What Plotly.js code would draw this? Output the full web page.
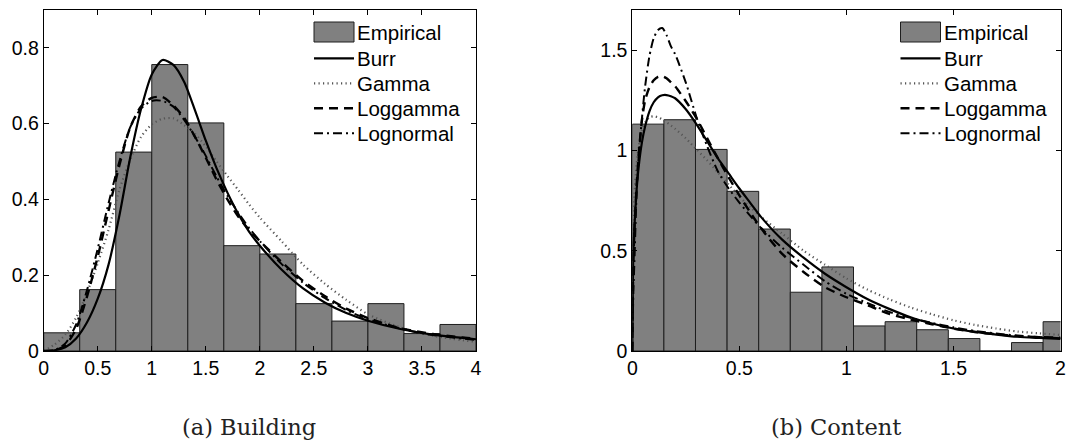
<!DOCTYPE html>
<html>
<head>
<meta charset="utf-8">
<script src="https://cdn.plot.ly/plotly-3.0.1.min.js"></script>
<style>html,body{margin:0;padding:0;background:#fff;}#chart{width:1067px;height:446px;}</style>
</head>
<body>
<div id="chart"></div>
<script>
// ---------- data ----------
const seriesNames = ["Empirical", "Burr", "Gamma", "Loggamma", "Lognormal"];
const panelCaptions = ["(a) Building", "(b) Content"];

// (a) Building
const buildingBinCenters = [0.1667, 0.5, 0.8333, 1.1667, 1.5, 1.8333, 2.1667, 2.5, 2.8333, 3.1667, 3.5, 3.8333];
const buildingBinWidth = 0.3333;
const buildingDensity = [0.048, 0.162, 0.525, 0.756, 0.602, 0.278, 0.256, 0.125, 0.079, 0.125, 0.046, 0.070];
const buildingX = [0, 0.1, 0.2, 0.3, 0.4, 0.5, 0.6, 0.7, 0.8, 0.9, 1.0, 1.1, 1.2, 1.3, 1.4, 1.5, 1.6, 1.7, 1.8, 1.9, 2.0, 2.2, 2.4, 2.6, 2.8, 3.0, 3.3, 3.6, 4.0];
const buildingBurr = [0, 0.002, 0.01, 0.033, 0.075, 0.138, 0.228, 0.357, 0.51, 0.638, 0.73, 0.768, 0.755, 0.71, 0.635, 0.555, 0.482, 0.418, 0.362, 0.315, 0.278, 0.215, 0.165, 0.128, 0.1, 0.08, 0.058, 0.043, 0.031];
const buildingGamma = [0, 0.017, 0.043, 0.088, 0.153, 0.232, 0.32, 0.425, 0.505, 0.565, 0.598, 0.613, 0.614, 0.596, 0.573, 0.54, 0.5, 0.462, 0.425, 0.387, 0.352, 0.29, 0.228, 0.178, 0.135, 0.097, 0.062, 0.04, 0.024];
const buildingLoggamma = [0, 0.001, 0.015, 0.058, 0.143, 0.249, 0.37, 0.49, 0.59, 0.645, 0.668, 0.67, 0.648, 0.615, 0.565, 0.51, 0.452, 0.4, 0.355, 0.32, 0.29, 0.235, 0.185, 0.145, 0.112, 0.087, 0.06, 0.045, 0.032];
const buildingLognormal = [0, 0.002, 0.02, 0.07, 0.16, 0.27, 0.39, 0.5, 0.59, 0.64, 0.66, 0.66, 0.645, 0.61, 0.565, 0.515, 0.46, 0.41, 0.365, 0.325, 0.29, 0.23, 0.18, 0.14, 0.108, 0.084, 0.059, 0.042, 0.029];
const buildingXTicks = [0, 0.5, 1, 1.5, 2, 2.5, 3, 3.5, 4];
const buildingYTicks = [0, 0.2, 0.4, 0.6, 0.8];

// (b) Content
const contentBinCenters = [0.0738, 0.2214, 0.369, 0.5166, 0.6642, 0.8118, 0.9594, 1.107, 1.2546, 1.4022, 1.5498, 1.6974, 1.845, 1.9926];
const contentBinWidth = 0.1476;
const contentDensity = [1.131, 1.153, 1.005, 0.796, 0.608, 0.293, 0.419, 0.125, 0.146, 0.106, 0.062, 0, 0.042, 0.146];
const contentX = [0, 0.005, 0.01, 0.02, 0.03, 0.045, 0.06, 0.08, 0.1, 0.12, 0.14, 0.16, 0.18, 0.2, 0.25, 0.3, 0.35, 0.4, 0.45, 0.5, 0.55, 0.6, 0.7, 0.8, 0.9, 1.0, 1.1, 1.2, 1.3, 1.4, 1.5, 1.6, 1.7, 1.8, 1.9, 2.0];
const contentBurr = [0, 0.5, 0.62, 0.8, 0.92, 1.04, 1.12, 1.195, 1.24, 1.265, 1.275, 1.276, 1.27, 1.26, 1.205, 1.13, 1.045, 0.96, 0.885, 0.81, 0.74, 0.67, 0.555, 0.465, 0.385, 0.318, 0.258, 0.21, 0.168, 0.137, 0.112, 0.095, 0.082, 0.071, 0.065, 0.06];
const contentGamma = [0, 0.6, 0.78, 0.93, 1.02, 1.1, 1.14, 1.165, 1.17, 1.165, 1.155, 1.14, 1.125, 1.108, 1.06, 1.005, 0.95, 0.89, 0.83, 0.77, 0.718, 0.67, 0.585, 0.5, 0.43, 0.362, 0.305, 0.258, 0.217, 0.183, 0.153, 0.13, 0.112, 0.097, 0.088, 0.08];
const contentLoggamma = [0, 0.45, 0.6, 0.82, 0.98, 1.15, 1.25, 1.315, 1.35, 1.367, 1.37, 1.36, 1.34, 1.32, 1.245, 1.16, 1.06, 0.96, 0.866, 0.776, 0.692, 0.614, 0.484, 0.394, 0.318, 0.268, 0.228, 0.185, 0.157, 0.133, 0.112, 0.095, 0.083, 0.074, 0.069, 0.066];
const contentLognormal = [0, 0.3, 0.45, 0.785, 0.97, 1.16, 1.32, 1.47, 1.56, 1.6, 1.61, 1.575, 1.52, 1.48, 1.338, 1.165, 1.02, 0.895, 0.81, 0.74, 0.675, 0.615, 0.515, 0.43, 0.348, 0.285, 0.238, 0.195, 0.165, 0.14, 0.118, 0.1, 0.087, 0.077, 0.07, 0.064];
const contentXTicks = [0, 0.5, 1, 1.5, 2];
const contentYTicks = [0, 0.5, 1, 1.5];

// ---------- styling ----------
const W = 1067, H = 446, MT = 10, MB = 95;
const PH = H - MT - MB;
const px = p => p / W;
const py = p => (H - MB - p) / PH;

const barFill = '#808080', barEdge = '#1e1e1e';
const lineStyles = {
  Burr:      {color: '#000', width: 2.2, dash: 'solid'},
  Gamma:     {color: '#555', width: 2.2, dash: '1.2px,3.3px'},
  Loggamma:  {color: '#000', width: 2.4, dash: '9px,6px'},
  Lognormal: {color: '#000', width: 2.0, dash: '9px,4px,2px,4px'}
};

function curve(name, x, y, xa, ya) {
  return {type: 'scatter', mode: 'lines', name: name, x: x, y: y, xaxis: xa, yaxis: ya,
    line: Object.assign({shape: 'spline', smoothing: 0.7}, lineStyles[name]),
    showlegend: false, hoverinfo: 'skip'};
}
function bars(x, y, w, xa, ya) {
  return {type: 'bar', name: seriesNames[0], x: x, y: y, width: w, xaxis: xa, yaxis: ya,
    marker: {color: barFill, line: {color: barEdge, width: 1}}, showlegend: false, hoverinfo: 'skip'};
}

const traces = [
  bars(buildingBinCenters, buildingDensity, buildingBinWidth, 'x', 'y'),
  curve('Gamma', buildingX, buildingGamma, 'x', 'y'),
  curve('Lognormal', buildingX, buildingLognormal, 'x', 'y'),
  curve('Loggamma', buildingX, buildingLoggamma, 'x', 'y'),
  curve('Burr', buildingX, buildingBurr, 'x', 'y'),
  bars(contentBinCenters, contentDensity, contentBinWidth, 'x2', 'y2'),
  curve('Gamma', contentX, contentGamma, 'x2', 'y2'),
  curve('Lognormal', contentX, contentLognormal, 'x2', 'y2'),
  curve('Loggamma', contentX, contentLoggamma, 'x2', 'y2'),
  curve('Burr', contentX, contentBurr, 'x2', 'y2')
];

const tickFont = {family: 'Liberation Sans, Arial, sans-serif', size: 19.5, color: '#000'};
function axis(extra) {
  return Object.assign({
    showline: true, linecolor: '#000', linewidth: 1, mirror: 'allticks',
    ticks: 'inside', ticklen: 5, tickwidth: 1, tickcolor: '#000',
    showgrid: false, zeroline: false, fixedrange: true, tickmode: 'array',
    tickfont: tickFont, ticklabeloverflow: 'allow'
  }, extra);
}

const shapes = [], annotations = [];
function legend(x0) {
  const x1 = x0 + 40;
  shapes.push({type: 'rect', xref: 'paper', yref: 'paper', x0: px(x0), x1: px(x1), y0: py(42), y1: py(22),
    fillcolor: barFill, line: {color: barEdge, width: 1}});
  const rows = [58.3, 83.3, 108.3, 133.3];
  seriesNames.slice(1).forEach((n, i) => {
    const s = lineStyles[n];
    shapes.push({type: 'line', xref: 'paper', yref: 'paper', x0: px(x0), x1: px(x1), y0: py(rows[i]), y1: py(rows[i]),
      line: {color: s.color, width: s.width, dash: s.dash}});
  });
  const ys = [32.5].concat(rows);
  seriesNames.forEach((n, i) => {
    annotations.push({text: n, xref: 'paper', yref: 'paper', x: px(x1 + 1), y: py(ys[i]),
      xanchor: 'left', yanchor: 'middle', showarrow: false,
      font: {family: 'Liberation Sans, Arial, sans-serif', size: 20.5, color: '#000'}});
  });
}
legend(314);
legend(900.5);

const captionX = [249, 836];
panelCaptions.forEach((c, i) => {
  annotations.push({text: c, xref: 'paper', yref: 'paper', x: px(captionX[i]), y: py(427),
    xanchor: 'center', yanchor: 'middle', showarrow: false,
    font: {family: 'DejaVu Serif, serif', size: 22.5, color: '#222'}});
});

const layout = {
  width: W, height: H,
  margin: {l: 0, r: 0, t: MT, b: MB, pad: 0},
  paper_bgcolor: '#fff', plot_bgcolor: '#fff',
  showlegend: false, barmode: 'overlay', bargap: 0,
  font: {family: 'Liberation Sans, Arial, sans-serif', color: '#000'},
  xaxis: axis({domain: [px(43.7), px(476)], range: [0, 4], tickvals: buildingXTicks, anchor: 'y'}),
  yaxis: axis({domain: [0, 1], range: [0, 0.9], tickvals: buildingYTicks, anchor: 'x'}),
  xaxis2: axis({domain: [px(632.3), px(1060.5)], range: [0, 2], tickvals: contentXTicks, anchor: 'y2'}),
  yaxis2: axis({domain: [0, 1], range: [0, 1.7], tickvals: contentYTicks, anchor: 'x2'}),
  shapes: shapes, annotations: annotations
};

Plotly.newPlot('chart', traces, layout, {staticPlot: true, displayModeBar: false});
</script>
</body>
</html>
